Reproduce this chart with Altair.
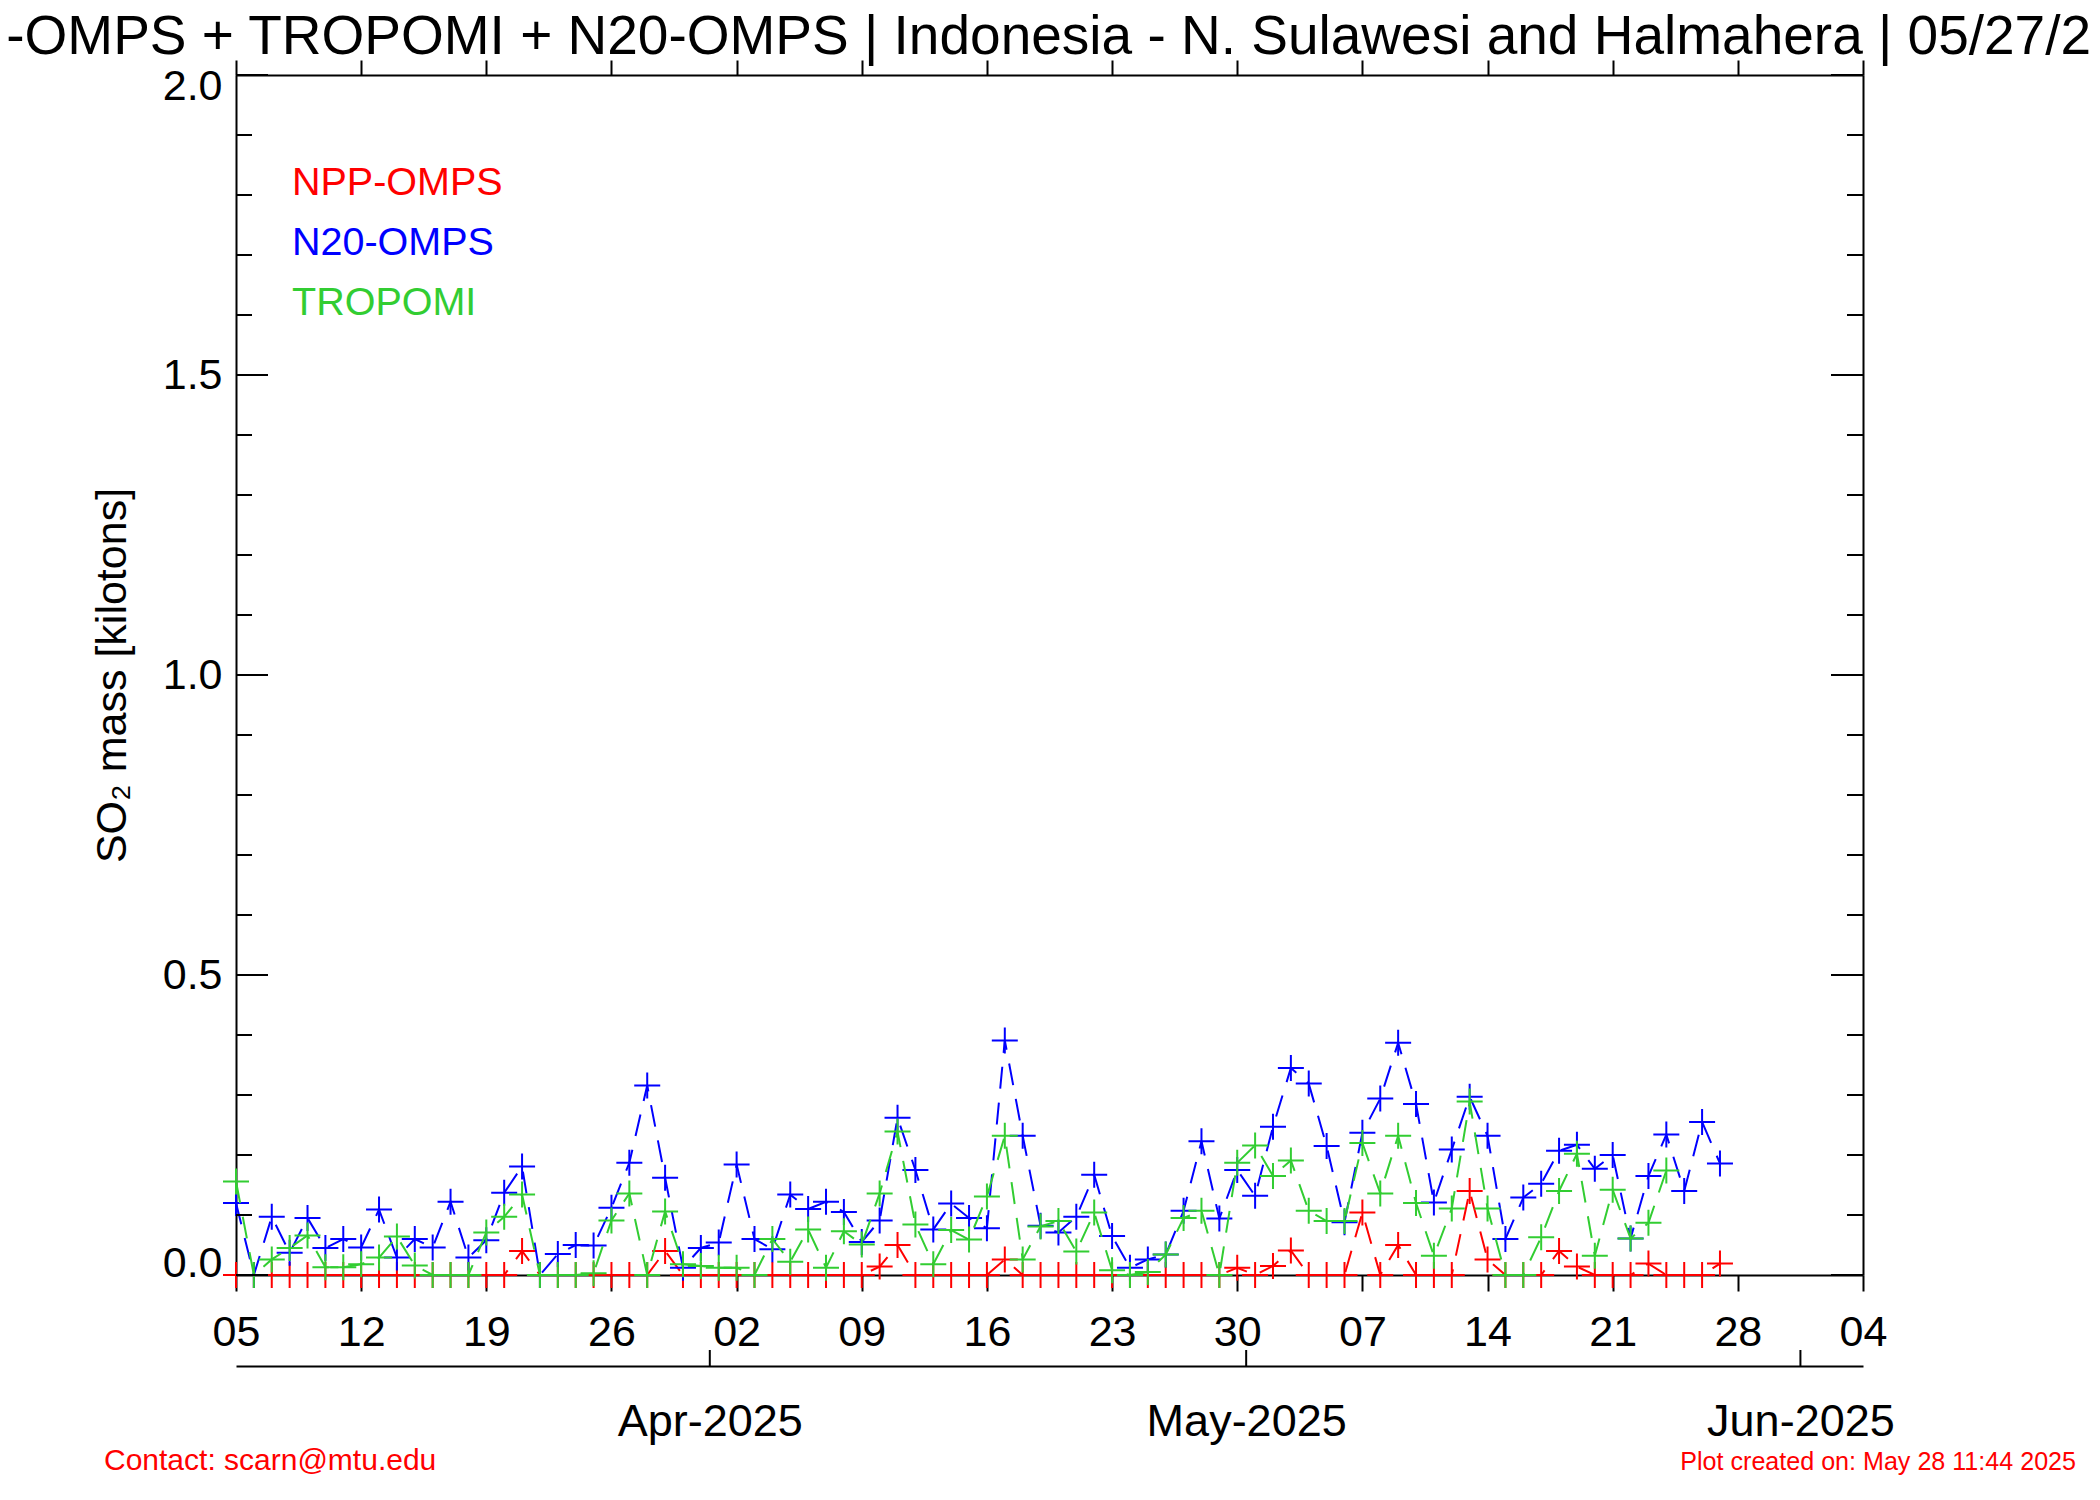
import altair as alt
import pandas as pd

FONT = "Liberation Sans, Arial, Helvetica, sans-serif"

# ------------------------------------------------------------------ data
dates = [d.strftime("%Y-%m-%d") for d in pd.date_range("2025-03-05", "2025-05-27", freq="D")]

npp_omps = [
    0, 0, 0, 0, 0, 0, 0, 0, 0, 0,
    0, 0, 0, 0, 0, 0, 0.04, 0, 0, 0,
    0, 0, 0, 0, 0.04, 0, 0, 0, 0, 0,
    0, 0, 0, 0, 0, 0, 0.014, 0.05, 0, 0,
    0, 0, 0, 0.026, 0, 0, 0, 0, 0, 0,
    0, 0, 0, 0, 0, 0, 0.012, 0, 0.015, 0.041,
    0, 0, 0, 0.104, 0, 0.05, 0, 0, 0, 0.14,
    0.026, 0, 0, 0, 0.04, 0.014, 0, 0, 0, 0.019,
    0, 0, 0, 0.019,
]
n20_omps = [
    0.12, 0, 0.097, 0.037, 0.095, 0.045, 0.06, 0.046, 0.109, 0.029,
    0.06, 0.046, 0.122, 0.029, 0.058, 0.137, 0.181, 0, 0.035, 0.05,
    0.049, 0.112, 0.187, 0.316, 0.162, 0.012, 0.045, 0.054, 0.184, 0.06,
    0.043, 0.134, 0.11, 0.122, 0.105, 0.055, 0.091, 0.262, 0.175, 0.076,
    0.119, 0.095, 0.078, 0.391, 0.232, 0.082, 0.071, 0.097, 0.167, 0.065,
    0.012, 0.026, 0.034, 0.107, 0.223, 0.094, 0.175, 0.132, 0.247, 0.345,
    0.319, 0.215, 0.088, 0.237, 0.294, 0.387, 0.285, 0.121, 0.209, 0.297,
    0.232, 0.06, 0.129, 0.152, 0.207, 0.217, 0.177, 0.2, 0.061, 0.165,
    0.234, 0.14, 0.255, 0.186,
]
tropomi = [
    0.156, 0, 0.026, 0.045, 0.066, 0.013, 0.013, 0.018, 0.029, 0.064,
    0.016, 0, 0, 0, 0.071, 0.097, 0.134, 0, 0, 0,
    0.003, 0.091, 0.136, 0, 0.106, 0.018, 0.015, 0.012, 0.012, 0,
    0.06, 0.022, 0.076, 0.012, 0.073, 0.051, 0.136, 0.239, 0.084, 0.018,
    0.075, 0.059, 0.131, 0.232, 0.026, 0.081, 0.09, 0.039, 0.104, 0.008,
    0, 0.005, 0.034, 0.095, 0.107, 0, 0.187, 0.216, 0.165, 0.191,
    0.107, 0.09, 0.09, 0.22, 0.136, 0.232, 0.12, 0.032, 0.111, 0.289,
    0.111, 0, 0, 0.063, 0.14, 0.202, 0.032, 0.142, 0.061, 0.087,
    0.174,
]

series_names = ["NPP-OMPS", "N20-OMPS", "TROPOMI"]
series_colors = ["#ff0000", "#0000ff", "#32cd32"]

x_start, x_end = "2025-03-05", "2025-06-04"
weekly_ticks = ["2025-03-05", "2025-03-12", "2025-03-19", "2025-03-26", "2025-04-02",
                "2025-04-09", "2025-04-16", "2025-04-23", "2025-04-30", "2025-05-07",
                "2025-05-14", "2025-05-21", "2025-05-28", "2025-06-04"]
month_ticks = ["2025-04-01", "2025-05-01", "2025-06-01"]
y_major = [0.0, 0.5, 1.0, 1.5, 2.0]
y_minor = [0.1, 0.2, 0.3, 0.4, 0.6, 0.7, 0.8, 0.9, 1.1, 1.2, 1.3, 1.4,
           1.6, 1.7, 1.8, 1.9]

title_text = "NPP-OMPS + TROPOMI + N20-OMPS | Indonesia - N. Sulawesi and Halmahera | 05/27/2025"
y_title = "SO\u2082 mass [kilotons]"
contact_text = "Contact: scarn@mtu.edu"
created_text = "Plot created on: May 28 11:44 2025"

# ------------------------------------------------------------------ layout
W, H = 1627, 1200
MONTH_OFFSET = 91
MONTH_SHIFT_H = 12  # the month axis of the original sits half a day early


def to_dt(s, minus_hours=0):
    t = pd.Timestamp(s) - pd.Timedelta(hours=minus_hours)
    return alt.DateTime(year=t.year, month=t.month, date=t.day, hours=t.hour, utc=True)


xscale = alt.Scale(type="utc", domain=[to_dt(x_start), to_dt(x_end)])
yscale = alt.Scale(domain=[0, 2], nice=False, zero=False)

common = dict(domainColor="black", domainWidth=2, tickColor="black", tickWidth=2,
              labelColor="black", labelFont=FONT, grid=False, labelLimit=600)

ax_bottom = alt.Axis(orient="bottom", values=[to_dt(s) for s in weekly_ticks], format="%d",
                     tickSize=16, labelPadding=54, labelBaseline="alphabetic",
                     labelFontSize=43, labelFlush=False, labelOverlap=False,
                     labelBound=False, labelAngle=0, title=None, **common)
ax_top = alt.Axis(orient="top", values=[to_dt(s) for s in weekly_ticks], labels=False,
                  tickSize=15, title=None, **common)
ax_left = alt.Axis(orient="left", values=y_major, format=".1f", ticks=False, tickSize=0,
                   labelPadding=14, labelFontSize=43, labelFlush=True, labelFlushOffset=10,
                   labelOverlap=False, title=y_title, titleFont=FONT, titleFontSize=43,
                   titleFontWeight="normal", titleColor="black", titleX=-124, titleY=600,
                   titleAngle=270, titleAlign="center", titleBaseline="middle", **common)
ax_right = alt.Axis(orient="right", values=y_major, labels=False, ticks=False, tickSize=0,
                    title=None, **common)
ax_month = alt.Axis(orient="bottom", offset=MONTH_OFFSET,
                    values=[to_dt(s, MONTH_SHIFT_H) for s in month_ticks],
                    labelExpr=f"utcFormat(datum.value + {MONTH_SHIFT_H * 3600000}, '%b-%Y')",
                    ticks=False, tickSize=0, labelPadding=69,
                    labelBaseline="alphabetic", labelFontSize=45, labelFlush=False,
                    labelOverlap=False, labelBound=False, labelAngle=0, title=None, **common)

PLUS = "M-1,0L1,0M0,-1L0,1"


def series_layers(values, color, xaxis=None, yaxis=None):
    df = pd.DataFrame({"date": dates[:len(values)], "value": values})
    line = alt.Chart(df).mark_line(color=color, strokeWidth=2, strokeDash=[22, 14]).encode(
        x=alt.X("date:T", scale=xscale, axis=xaxis),
        y=alt.Y("value:Q", scale=yscale, axis=yaxis),
    )
    pts = alt.Chart(df).mark_point(shape=PLUS, size=676, filled=False, color=color,
                                   strokeWidth=2, opacity=1).encode(
        x=alt.X("date:T", scale=xscale, axis=None),
        y=alt.Y("value:Q", scale=yscale, axis=None),
    )
    return [line, pts]


layers = []
layers += series_layers(npp_omps, series_colors[0], ax_bottom, ax_left)
layers += series_layers(n20_omps, series_colors[1], ax_top, ax_right)
layers += series_layers(tropomi, series_colors[2])

# month axis with upward ticks
month_df = pd.DataFrame({
    "m": [(pd.Timestamp(s) - pd.Timedelta(hours=MONTH_SHIFT_H)).strftime("%Y-%m-%dT%H:%M:%SZ")
          for s in month_ticks]
})
layers.append(
    alt.Chart(month_df).mark_rule(color="black", strokeWidth=2).encode(
        x=alt.X("m:T", scale=xscale, axis=ax_month),
        y=alt.value(H + MONTH_OFFSET - 16),
        y2=alt.value(H + MONTH_OFFSET),
    )
)

# inward y ticks (left and right)
maj_df = pd.DataFrame({"v": y_major})
min_df = pd.DataFrame({"v": y_minor})
for df, ln in [(maj_df, 32), (min_df, 16)]:
    layers.append(alt.Chart(df).mark_rule(color="black", strokeWidth=2).encode(
        y=alt.Y("v:Q", scale=yscale, axis=None), x=alt.value(0), x2=alt.value(ln)))
    layers.append(alt.Chart(df).mark_rule(color="black", strokeWidth=2).encode(
        y=alt.Y("v:Q", scale=yscale, axis=None), x=alt.value(W - ln), x2=alt.value(W)))

# texts
one = pd.DataFrame({"t": [title_text]})
layers.append(alt.Chart(one).mark_text(font=FONT, fontSize=55, color="black", align="center",
                                       baseline="alphabetic").encode(
    text="t:N", x=alt.value(802), y=alt.value(-21)))

for i, (name, col) in enumerate(zip(series_names, series_colors)):
    layers.append(alt.Chart(pd.DataFrame({"t": [name]})).mark_text(
        font=FONT, fontSize=39.5, color=col, align="left", baseline="alphabetic").encode(
        text="t:N", x=alt.value(56), y=alt.value(120 + 60 * i)))

layers.append(alt.Chart(pd.DataFrame({"t": [contact_text]})).mark_text(
    font=FONT, fontSize=30, color="#ff0000", align="left", baseline="alphabetic").encode(
    text="t:N", x=alt.value(-132), y=alt.value(1395)))
layers.append(alt.Chart(pd.DataFrame({"t": [created_text]})).mark_text(
    font=FONT, fontSize=25.1, color="#ff0000", align="right", baseline="alphabetic").encode(
    text="t:N", x=alt.value(1840), y=alt.value(1395)))

chart = alt.layer(*layers).resolve_axis(x="independent", y="independent").properties(
    width=W, height=H,
    autosize=alt.AutoSizeParams(type="none"),
    padding={"left": 228, "top": 67, "right": 229, "bottom": 217},
    background="white",
).configure_view(stroke="transparent")

chart.save("out.html", embed_options={"renderer": "svg", "actions": False})
